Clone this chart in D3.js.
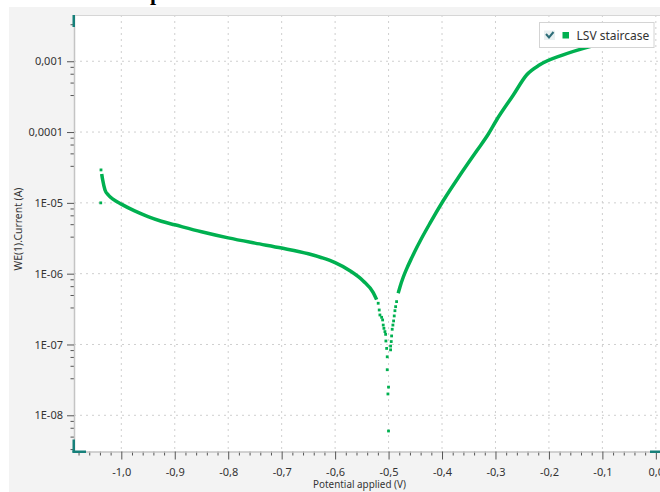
<!DOCTYPE html>
<meta charset="utf-8">
<style>
  body { margin: 0; background: #fff; }
  svg { display: block; font-family: "Noto Sans", "Open Sans", sans-serif; }
</style>
<body>
<script src="https://cdn.jsdelivr.net/npm/d3@7/dist/d3.min.js"></script>
<script>

    // potential (V) and current (A)
    var cathodicV = [-1.0367, -1.0348, -1.0305, -1.0243, -1.0150, -1.0, -0.975, -0.95, -0.925, -0.9,
                     -0.85, -0.8, -0.75, -0.7, -0.65, -0.625, -0.6, -0.5723, -0.5474, -0.5287, -0.5224];
    var cathodicI = [2.56e-5, 2.10e-5, 1.52e-5, 1.29e-5, 1.12e-5, 9.6e-6, 7.7e-6, 6.4e-6, 5.5e-6, 4.9e-6,
                     3.9e-6, 3.2e-6, 2.7e-6, 2.3e-6, 1.91e-6, 1.68e-6, 1.43e-6, 1.10e-6, 7.9e-7, 5.4e-7, 4.3e-7];

    // sparse points (start of sweep and around the corrosion potential)
    var dotsV = [-1.0380, -1.0385, -0.5194, -0.5175, -0.5162, -0.5130, -0.5111, -0.5100, -0.5087, -0.5068, -0.5055,
                 -0.5050, -0.5036, -0.5025, -0.5025, -0.5001, -0.5012, -0.5001, -0.4962, -0.4962, -0.4950, -0.4943,
                 -0.4932, -0.4919, -0.4906, -0.4894, -0.4881, -0.4868, -0.4850];
    var dotsI = [2.92e-5, 1.0e-5, 3.82e-7, 3.07e-7, 2.61e-7, 2.42e-7, 2.22e-7, 1.88e-7, 1.69e-7, 1.52e-7, 1.39e-7,
                 1.12e-7, 8.8e-8, 6.7e-8, 4.4e-8, 2.5e-8, 2.0e-8, 6.0e-9, 8.4e-8, 9.5e-8, 1.10e-7, 1.32e-7,
                 1.64e-7, 1.88e-7, 2.15e-7, 2.53e-7, 3.0e-7, 3.42e-7, 4.03e-7];

    var anodicV = [-0.4820, -0.4788, -0.4726, -0.4662, -0.4569, -0.4475, -0.4414, -0.4227, -0.3978, -0.3666,
                   -0.3353, -0.3136, -0.2979, -0.2669, -0.2418, -0.2170, -0.1734, -0.1234, -0.1047];
    var anodicI = [5.3e-7, 6.45e-7, 8.9e-7, 1.17e-6, 1.66e-6, 2.32e-6, 2.85e-6, 5.13e-6, 1.07e-5, 2.45e-5,
                   5.4e-5, 9.3e-5, 1.48e-4, 3.31e-4, 6.4e-4, 8.9e-4, 1.23e-3, 1.61e-3, 1.75e-3];

    var xTicks = [-1.0, -0.9, -0.8, -0.7, -0.6, -0.5, -0.4, -0.3, -0.2, -0.1, 0.0];
    var xTickLabels = ["-1,0", "-0,9", "-0,8", "-0,7", "-0,6", "-0,5", "-0,4", "-0,3", "-0,2", "-0,1", "0,0"];
    var yTicks = [1e-3, 1e-4, 1e-5, 1e-6, 1e-7, 1e-8];
    var yTickLabels = ["0,001", "0,0001", "1E-05", "1E-06", "1E-07", "1E-08"];
    var minorSteps = [10 / 3, 5, 20 / 3, 25 / 3];

    var seriesName = "LSV staircase";
    var xTitle = "Potential applied (V)";
    var yTitle = "WE(1).Current (A)";

    var w = 660, h = 492;
    var pLeft = 74, pTop = 15, pRight = 660, pBottom = 451.5;
    var green = "#00b050", teal = "#16807a";

    var svg = d3.select("body")
            .append("svg")
            .attr("width", w)
            .attr("height", h);

    // cut-off heading from the page above
    svg.append("text")
            .attr("x", 150).attr("y", 0)
            .style("font-family", "'Liberation Serif', serif")
            .style("font-weight", "bold")
            .style("font-size", "22px")
            .text("p");

    svg.append("rect")
            .attr("x", 9).attr("y", 7)
            .attr("width", w - 9).attr("height", h - 7)
            .attr("fill", "#f3f3f3");

    svg.append("rect")
            .attr("x", pLeft).attr("y", pTop)
            .attr("width", pRight - pLeft).attr("height", pBottom - pTop)
            .attr("fill", "#fff");

    var x = d3.scaleLinear().domain([-1.0885, 0.0078]).range([pLeft, pRight]);
    var y = d3.scaleLog().domain([3.08e-9, 4.5e-3]).range([pBottom, pTop]);

    // grid
    svg.append("g").selectAll("line")
            .data(xTicks)
            .enter().append("line")
            .attr("x1", function(d) { return x(d); })
            .attr("x2", function(d) { return x(d); })
            .attr("y1", pTop).attr("y2", pBottom)
            .attr("stroke", "#cfcfcf")
            .attr("stroke-dasharray", "2,4");

    svg.append("g").selectAll("line")
            .data(yTicks)
            .enter().append("line")
            .attr("x1", pLeft).attr("x2", pRight)
            .attr("y1", function(d) { return y(d); })
            .attr("y2", function(d) { return y(d); })
            .attr("stroke", "#cfcfcf")
            .attr("stroke-dasharray", "2,4");

    svg.append("line")
            .attr("x1", pLeft).attr("x2", pRight)
            .attr("y1", pTop + 0.5).attr("y2", pTop + 0.5)
            .attr("stroke", "#d6d6d6");

    // minor ticks
    var yMinor = [];
    yTicks.concat([1e-9]).forEach(function(d) {
        minorSteps.forEach(function(m) {
            var v = d * m;
            if (v > y.domain()[0] && v < y.domain()[1]) yMinor.push(v);
        });
    });
    var xMinor = d3.range(-108, 1, 2).map(function(d) { return d / 100; })
            .filter(function(d) { return xTicks.every(function(t) { return Math.abs(t - d) > 1e-6; }); });

    svg.append("g")
            .attr("transform", "translate(" + pLeft + ",0)")
            .call(d3.axisLeft(y).tickValues(yMinor).tickFormat("").tickSize(3.5).tickSizeOuter(0))
            .call(function(g) { g.select(".domain").remove(); g.selectAll("line").attr("stroke", "#555"); });

    svg.append("g")
            .attr("transform", "translate(0," + pBottom + ")")
            .call(d3.axisBottom(x).tickValues(xMinor).tickFormat("").tickSize(4).tickSizeOuter(0))
            .call(function(g) { g.select(".domain").remove(); g.selectAll("line").attr("stroke", "#555"); });

    // axes
    var yAxis = svg.append("g")
            .attr("transform", "translate(" + pLeft + ",0)")
            .call(d3.axisLeft(y).tickValues(yTicks)
                    .tickFormat(function(d, i) { return yTickLabels[i]; })
                    .tickSize(7).tickPadding(4).tickSizeOuter(0));

    var xAxis = svg.append("g")
            .attr("transform", "translate(0," + pBottom + ")")
            .call(d3.axisBottom(x).tickValues(xTicks)
                    .tickFormat(function(d, i) { return xTickLabels[i]; })
                    .tickSize(8).tickPadding(9).tickSizeOuter(0));

    [yAxis, xAxis].forEach(function(g) {
        g.select(".domain").attr("stroke", "#c4c4c4").attr("stroke-width", 1.5);
        g.selectAll(".tick line").attr("stroke", "#555");
        g.selectAll(".tick text")
                .attr("fill", "#333")
                .style("font-family", "'Noto Sans', sans-serif")
                .style("font-size", "11px");
    });

    // shrink a title to the width it has in the picture
    function fit(sel, width) {
        var len = sel.node().getComputedTextLength();
        if (len > width) sel.style("font-size", (12 * width / len).toFixed(2) + "px");
    }

    var xt = svg.append("text")
            .attr("x", 359.5).attr("y", 488)
            .attr("text-anchor", "middle")
            .attr("fill", "#333")
            .style("font-size", "12px")
            .text(xTitle);
    fit(xt, 93);

    var yt = svg.append("text")
            .attr("transform", "translate(22,229) rotate(-90)")
            .attr("text-anchor", "middle")
            .attr("fill", "#333")
            .style("font-size", "12px")
            .text(yTitle);
    fit(yt, 83);

    // range handles
    svg.append("rect").attr("x", 72.5).attr("y", pTop).attr("width", 2.5).attr("height", 12).attr("fill", teal);
    svg.append("rect").attr("x", 72.5).attr("y", 439.5).attr("width", 2.5).attr("height", 13).attr("fill", teal);
    svg.append("rect").attr("x", 72.5).attr("y", 450.5).attr("width", 13.5).attr("height", 2.5).attr("fill", teal);
    svg.append("rect").attr("x", 650).attr("y", 450.5).attr("width", 10).attr("height", 2.5).attr("fill", teal);

    // series
    svg.append("clipPath").attr("id", "plot")
            .append("rect")
            .attr("x", pLeft).attr("y", pTop)
            .attr("width", pRight - pLeft).attr("height", pBottom - pTop);

    var plot = svg.append("g").attr("clip-path", "url(#plot)");

    var line = d3.line()
            .x(function(d) { return x(d[0]); })
            .y(function(d) { return y(d[1]); })
            .curve(d3.curveMonotoneX);

    [[cathodicV, cathodicI], [anodicV, anodicI]].forEach(function(s) {
        plot.append("path")
                .datum(d3.zip(s[0], s[1]))
                .attr("d", line)
                .attr("fill", "none")
                .attr("stroke", green)
                .attr("stroke-width", 3.5)
                .attr("stroke-linejoin", "round");
    });

    plot.selectAll("rect.dot")
            .data(d3.zip(dotsV, dotsI))
            .enter().append("rect")
            .attr("class", "dot")
            .attr("x", function(d) { return x(d[0]) - 1.4; })
            .attr("y", function(d) { return y(d[1]) - 1.4; })
            .attr("width", 2.8).attr("height", 2.8)
            .attr("fill", green);

    // legend
    var legend = svg.append("g").attr("transform", "translate(539.5,22.5)");
    legend.append("rect")
            .attr("width", 114.5).attr("height", 25)
            .attr("fill", "#fff")
            .attr("stroke", "#d4d4d4");
    legend.append("rect")
            .attr("x", 4.5).attr("y", 8).attr("width", 11).attr("height", 9.5)
            .attr("fill", "#e9f0f1");
    legend.append("path")
            .attr("d", "M6.5,11.5 L9.5,15 L14,9.5")
            .attr("fill", "none")
            .attr("stroke", "#2e6d78")
            .attr("stroke-width", 2);
    legend.append("rect")
            .attr("x", 23).attr("y", 9.5).attr("width", 6.5).attr("height", 6.5)
            .attr("fill", green);
    legend.append("text")
            .attr("x", 37).attr("y", 17)
            .attr("fill", "#333")
            .style("font-size", "12px")
            .text(seriesName);

</script>
